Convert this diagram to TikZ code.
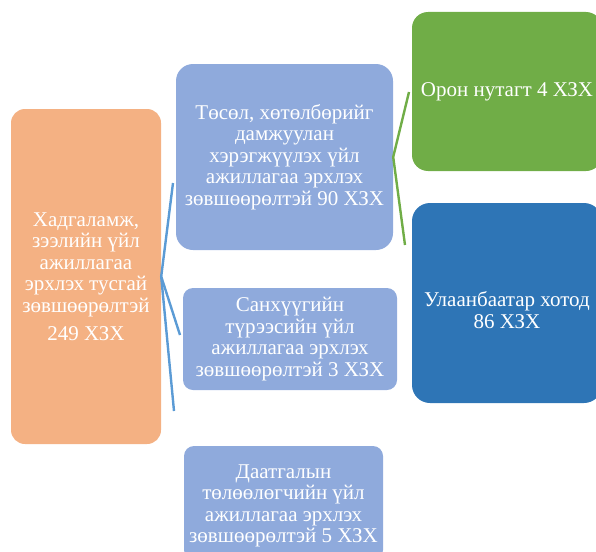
\documentclass[tikz,border=0pt]{standalone}
\usepackage{fontspec}
\setmainfont{Liberation Serif}
\definecolor{orangebox}{HTML}{F4B183}
\definecolor{lightbox}{HTML}{8FAADC}
\definecolor{greenbox}{HTML}{70AD47}
\definecolor{darkbox}{HTML}{2E75B6}
\definecolor{blueline}{HTML}{5B9BD5}
\begin{document}
\begin{tikzpicture}[x=1pt,y=-1pt,
  boxtext/.style={draw=none, inner sep=0pt, align=center, text=white,
    font=\fontsize{21}{21.5}\selectfont},
  box/.style={boxtext},
  bline/.style={draw=blueline, line width=2.4pt},
  gline/.style={draw=greenbox, line width=2.4pt}]
\useasboundingbox (0,0) rectangle (596,551);
\node[box, fill=orangebox, rounded corners=14pt, minimum width=150pt, minimum height=335pt] (main) at (86,276.5)
  {Хадгаламж,\\зээлийн үйл\\ажиллагаа\\эрхлэх тусгай\\зөвшөөрөлтэй\\[7pt]249 ХЗХ};
\node[box, fill=lightbox, rounded corners=17pt, minimum width=217pt, minimum height=186pt] (proj) at (284.5,157)
  {Төсөл, хөтөлбөрийг\\дамжуулан\\хэрэгжүүлэх үйл\\ажиллагаа эрхлэх\\зөвшөөрөлтэй 90 ХЗХ};
\node[box, fill=lightbox, rounded corners=10pt, minimum width=214pt, minimum height=102pt] (lease) at (290,339)
  {Санхүүгийн\\түрээсийн үйл\\ажиллагаа эрхлэх\\зөвшөөрөлтэй 3 ХЗХ};
\node[box, fill=lightbox, rounded corners=10pt, minimum width=199pt, minimum height=114pt] (ins) at (283.5,503) {};
\node[boxtext] (instext) at (283.5,506)
  {Даатгалын\\төлөөлөгчийн үйл\\ажиллагаа эрхлэх\\зөвшөөрөлтэй 5 ХЗХ};
\node[box, fill=greenbox, rounded corners=16pt, minimum width=190pt, minimum height=159pt] (local) at (507,91.5)
  {Орон нутагт 4 ХЗХ};
\node[box, fill=darkbox, rounded corners=18pt, minimum width=190pt, minimum height=200pt] (city) at (507,303) {};
\node[boxtext] (citytext) at (507,310) {Улаанбаатар хотод\\86 ХЗХ};
\coordinate (b1) at (173,183);
\coordinate (b2) at (180,335);
\coordinate (b3) at (174,411);
\coordinate (g1) at (409,92);
\coordinate (g2) at (405,245);
\draw[bline] (b1) -- (main.east) -- (b2);
\draw[bline] (main.east) -- (b3);
\draw[gline] (g1) -- (proj.east) -- (g2);
\end{tikzpicture}
\end{document}
